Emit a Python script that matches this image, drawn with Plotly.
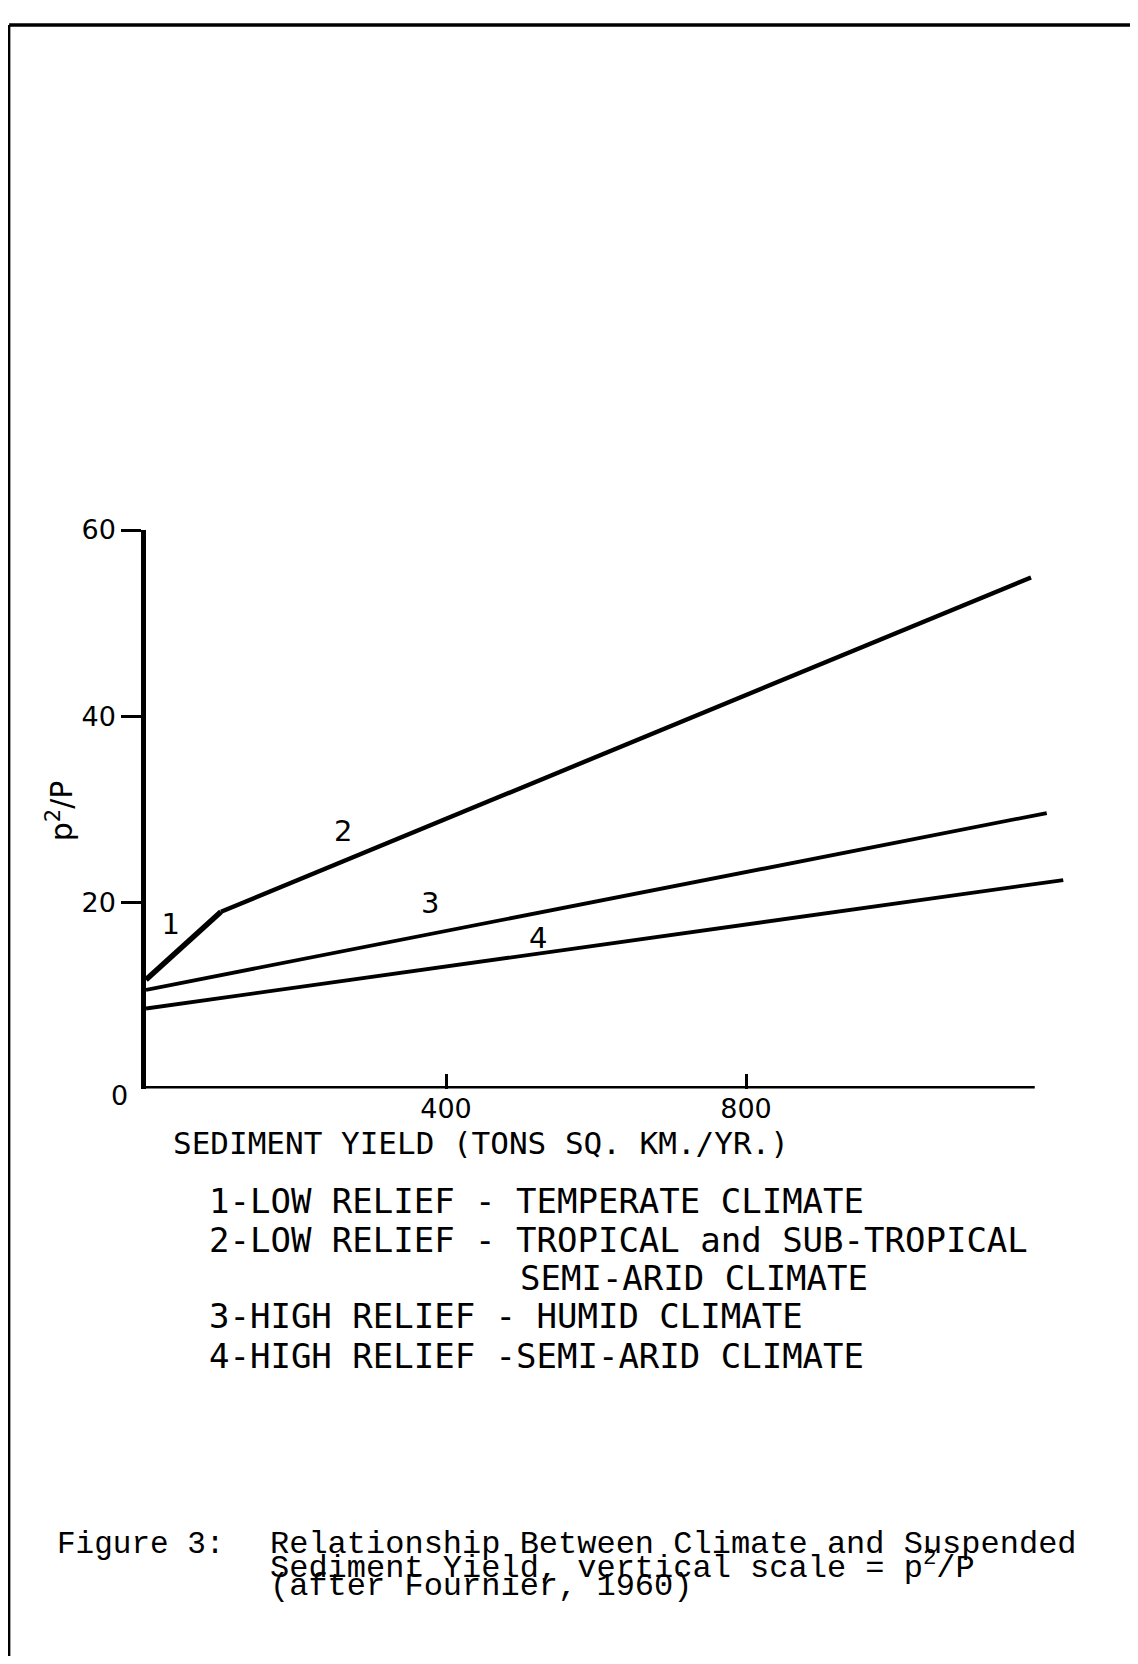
import plotly.graph_objects as go

# ---- data ----
line1_x = [0, 100]
line1_y = [11.7, 19.0]
line2_x = [100, 1180]
line2_y = [19.0, 54.9]
line3_x = [0, 1201]
line3_y = [10.6, 29.6]
line4_x = [0, 1223]
line4_y = [8.6, 22.4]

curve_labels = ["1", "2", "3", "4"]
curve_label_x = [33, 263, 379, 523]
curve_label_y = [17.4, 27.4, 19.6, 15.9]

x_ticks = [400, 800]
y_ticks = [20, 40, 60]
x_axis_end = 1185

legend_lines = [
    "1-LOW RELIEF - TEMPERATE CLIMATE",
    "2-LOW RELIEF - TROPICAL and SUB-TROPICAL",
    "SEMI-ARID CLIMATE",
    "3-HIGH RELIEF - HUMID CLIMATE",
    "4-HIGH RELIEF -SEMI-ARID CLIMATE",
]
caption_head = "Figure 3:"
caption_lines = [
    "Relationship Between Climate and Suspended",
    "Sediment Yield, vertical scale = p<sup>2</sup>/P",
    "(after Fournier, 1960)",
]

# page is 1138x1664; the html body has an 8px margin, so the figure is
# 16px smaller and every screen position S maps to figure position S-8
PAGE_W, PAGE_H = 1138, 1664
OFF = 8
W, H = PAGE_W - 2 * OFF, PAGE_H - 2 * OFF
FONT = "DejaVu Sans"
LET = "DejaVu Sans Mono"
MONO = "Liberation Mono"


def px(x):
    return (x - OFF) / W


def py(y):
    return 1 - (y - OFF) / H


fig = go.Figure()
for xs, ys, w in [(line1_x, line1_y, 5.5), (line2_x, line2_y, 4.4),
                  (line3_x, line3_y, 3.8), (line4_x, line4_y, 3.8)]:
    fig.add_trace(go.Scatter(x=xs, y=ys, mode="lines",
                             line=dict(color="black", width=w),
                             showlegend=False, hoverinfo="skip"))

fig.add_trace(go.Scatter(x=curve_label_x, y=curve_label_y, mode="text",
                         text=curve_labels,
                         textfont=dict(family=FONT, size=29, color="black"),
                         showlegend=False, hoverinfo="skip"))

# x axis line (ends before the curves do)
fig.add_shape(type="line", xref="x", yref="y", x0=0, x1=x_axis_end, y0=0, y1=0,
              line=dict(color="black", width=5))

fig.update_xaxes(domain=[px(146), px(1076)], range=[0, 1240],
                 showline=False, showgrid=False, zeroline=False,
                 tickvals=x_ticks, ticktext=[str(v) for v in x_ticks],
                 ticks="inside", ticklen=15, tickwidth=2.5, tickcolor="black",
                 ticklabelstandoff=1,
                 tickfont=dict(family=FONT, size=27, color="black"))
fig.update_yaxes(domain=[py(1083), py(519)], range=[0, 60],
                 showline=True, linewidth=4.5, linecolor="black",
                 showgrid=False, zeroline=False,
                 tickvals=y_ticks, ticktext=[str(v) for v in y_ticks],
                 ticks="outside", ticklen=20, tickwidth=2.5, tickcolor="black",
                 tickfont=dict(family=FONT, size=27, color="black"))


def note(x, y, text, family, size, xanchor="left", angle=0):
    return dict(x=px(x), y=py(y), text=text, showarrow=False,
                xref="paper", yref="paper", xanchor=xanchor, yanchor="middle",
                textangle=angle,
                font=dict(family=family, size=size, color="black"))


ann = [
    note(119, 1090, "0", FONT, 27, xanchor="center"),
    note(60, 803, "p<sup>2</sup>/P", FONT, 30, xanchor="center", angle=-90),
    note(171, 1138, "SEDIMENT YIELD (TONS SQ. KM./YR.)", LET, 31),
]

leg_y = [1197, 1236, 1274, 1313, 1353]
leg_x = [207, 207, 518, 207, 207]
for t, lx, ly in zip(legend_lines, leg_x, leg_y):
    ann.append(note(lx, ly, t, LET, 34))

ann.append(note(55, 1543, caption_head, MONO, 31))
for t, ly in zip(caption_lines, [1543, 1565, 1586]):
    ann.append(note(268, ly, t, MONO, 32))

fig.update_layout(annotations=ann)

# page frame (top and left edges)
fig.add_shape(type="line", xref="paper", yref="paper", x0=0.001, x1=1,
              y0=py(9), y1=py(9), line=dict(color="black", width=3.5))
fig.add_shape(type="line", xref="paper", yref="paper", x0=0.001, x1=0.001,
              y0=py(9), y1=0, line=dict(color="black", width=2.5))

fig.update_layout(width=W, height=H, margin=dict(l=0, r=0, t=0, b=0),
                  paper_bgcolor="white", plot_bgcolor="white")

fig.write_html("out.html")
